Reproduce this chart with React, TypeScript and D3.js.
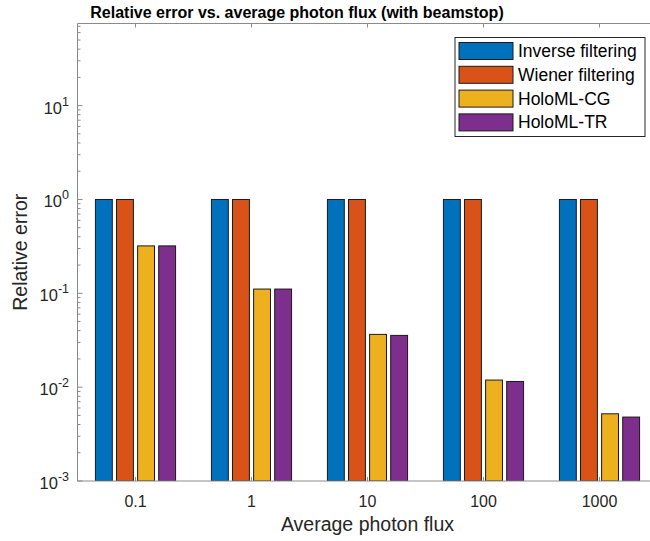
import React, { useEffect, useRef } from 'react';
import * as d3 from 'd3';

// photon flux levels (x categories)
const fluxLabels = ['0.1', '1', '10', '100', '1000'];
const seriesNames = ['Inverse filtering', 'Wiener filtering', 'HoloML-CG', 'HoloML-TR'];
const seriesColors = ['#0072BD', '#D95319', '#EDB120', '#7E2F8E'];

// relative error per method, one value per flux level
const inverseErr = [1, 1, 1, 1, 1];
const wienerErr = [1, 1, 1, 1, 1];
const cgErr = [0.32, 0.111, 0.0365, 0.0119, 0.0052];
const trErr = [0.32, 0.111, 0.0356, 0.0115, 0.0048];

const yTickExps = [-3, -2, -1, 0, 1];
const yMin = 1e-3;
const yMax = 75;

const FONT = '"Liberation Sans", Arial, Helvetica, sans-serif';

export default function App() {
  const ref = useRef<SVGSVGElement>(null);

  useEffect(() => {
    document.body.style.margin = '0';
    const W = 650,
      H = 541;
    const left = 77.5,
      right = 657.5,
      top = 23.5,
      bottom = 481;

    const svg = d3.select(ref.current);
    svg.selectAll('*').remove();
    svg.attr('width', W).attr('height', H);

    const allSeries = [inverseErr, wienerErr, cgErr, trErr];
    const dataset = fluxLabels.map((f, i) => ({
      flux: f,
      values: seriesNames.map((name, j) => ({ name, value: allSeries[j][i] })),
    }));

    const x0 = d3
      .scaleBand()
      .domain(fluxLabels)
      .range([left, right])
      .paddingInner(0.2727)
      .paddingOuter(0.1364);
    const x1 = d3
      .scaleBand()
      .domain(seriesNames)
      .range([0, x0.bandwidth()])
      .paddingInner(0.2)
      .paddingOuter(0.1);
    const y = d3.scaleLog().domain([yMin, yMax]).range([bottom, top]);
    const color = d3.scaleOrdinal<string, string>().domain(seriesNames).range(seriesColors);

    svg
      .append('defs')
      .append('clipPath')
      .attr('id', 'plotclip')
      .append('rect')
      .attr('x', left)
      .attr('y', top)
      .attr('width', right - left)
      .attr('height', bottom - top);

    // bars
    const groups = svg
      .append('g')
      .attr('clip-path', 'url(#plotclip)')
      .selectAll('g')
      .data(dataset)
      .enter()
      .append('g')
      .attr('transform', (d) => 'translate(' + x0(d.flux) + ',0)');

    groups
      .selectAll('rect')
      .data((d) => d.values)
      .enter()
      .append('rect')
      .attr('x', (d) => x1(d.name)!)
      .attr('width', x1.bandwidth())
      .attr('y', (d) => y(d.value))
      .attr('height', (d) => bottom - y(d.value))
      .style('fill', (d) => color(d.name))
      .style('stroke', '#1a1a1a')
      .style('stroke-width', 1);

    // axes box
    const axisColor = '#8a8a8a';
    const ax = svg.append('g').style('stroke', axisColor).style('stroke-width', 1).style('fill', 'none');
    ax.append('line').attr('x1', left).attr('x2', left).attr('y1', top).attr('y2', bottom);
    ax.append('line').attr('x1', left).attr('x2', right).attr('y1', top).attr('y2', top);
    ax.append('line').attr('x1', left).attr('x2', right).attr('y1', bottom).attr('y2', bottom);

    // y ticks (major + minor)
    yTickExps.forEach((e) => {
      const v = Math.pow(10, e);
      ax.append('line').attr('x1', left).attr('x2', left + 5).attr('y1', y(v)).attr('y2', y(v));
      for (let k = 2; k <= 9; k++) {
        const m = k * v;
        if (m > yMax) break;
        ax.append('line').attr('x1', left).attr('x2', left + 3).attr('y1', y(m)).attr('y2', y(m));
      }
    });

    // x ticks, bottom and top
    fluxLabels.forEach((f) => {
      const cx = x0(f)! + x0.bandwidth() / 2;
      ax.append('line').attr('x1', cx).attr('x2', cx).attr('y1', bottom).attr('y2', bottom - 4);
      ax.append('line').attr('x1', cx).attr('x2', cx).attr('y1', top).attr('y2', top + 4);
    });

    const textColor = '#262626';

    // y tick labels 10^n
    yTickExps.forEach((e) => {
      const t = svg
        .append('text')
        .attr('x', 69)
        .attr('y', y(Math.pow(10, e)) + 8)
        .attr('text-anchor', 'end')
        .style('font-family', FONT)
        .style('font-size', '16.5px')
        .style('fill', textColor);
      t.append('tspan').text('10');
      t.append('tspan').attr('dy', -8).style('font-size', '12.5px').text(String(e));
    });

    // x tick labels
    svg
      .append('g')
      .selectAll('text')
      .data(fluxLabels)
      .enter()
      .append('text')
      .attr('x', (d) => x0(d)! + x0.bandwidth() / 2)
      .attr('y', 506.5)
      .attr('text-anchor', 'middle')
      .style('font-family', FONT)
      .style('font-size', '16px')
      .style('fill', textColor)
      .text((d) => d);

    // axis labels
    svg
      .append('text')
      .attr('x', (left + right) / 2)
      .attr('y', 531)
      .attr('text-anchor', 'middle')
      .style('font-family', FONT)
      .style('font-size', '19.5px')
      .style('fill', textColor)
      .text('Average photon flux');

    svg
      .append('text')
      .attr('transform', 'translate(27,' + (top + bottom) / 2 + ') rotate(-90)')
      .attr('text-anchor', 'middle')
      .style('font-family', FONT)
      .style('font-size', '19.5px')
      .style('fill', textColor)
      .text('Relative error');

    // title
    svg
      .append('text')
      .attr('x', 297)
      .attr('y', 17.5)
      .attr('text-anchor', 'middle')
      .style('font-family', FONT)
      .style('font-size', '16px')
      .style('font-weight', 'bold')
      .style('fill', '#000')
      .text('Relative error vs. average photon flux (with beamstop)');

    // legend
    const lg = svg.append('g').attr('transform', 'translate(455,37.5)');
    lg.append('rect')
      .attr('width', 190)
      .attr('height', 99)
      .style('fill', '#fff')
      .style('stroke', '#262626')
      .style('stroke-width', 1);
    const items = lg
      .selectAll('.legend')
      .data(seriesNames)
      .enter()
      .append('g')
      .attr('class', 'legend')
      .attr('transform', (d, i) => 'translate(0,' + (5 + i * 23.8) + ')');
    items
      .append('rect')
      .attr('x', 4)
      .attr('width', 54)
      .attr('height', 17)
      .style('fill', (d) => color(d))
      .style('stroke', '#1a1a1a')
      .style('stroke-width', 1);
    items
      .append('text')
      .attr('x', 63)
      .attr('y', 14.5)
      .style('font-family', FONT)
      .style('font-size', '17.5px')
      .style('fill', '#000')
      .text((d) => d);
  }, []);

  return (
    <div>
      <svg ref={ref} style={{ display: 'block' }} />
    </div>
  );
}
